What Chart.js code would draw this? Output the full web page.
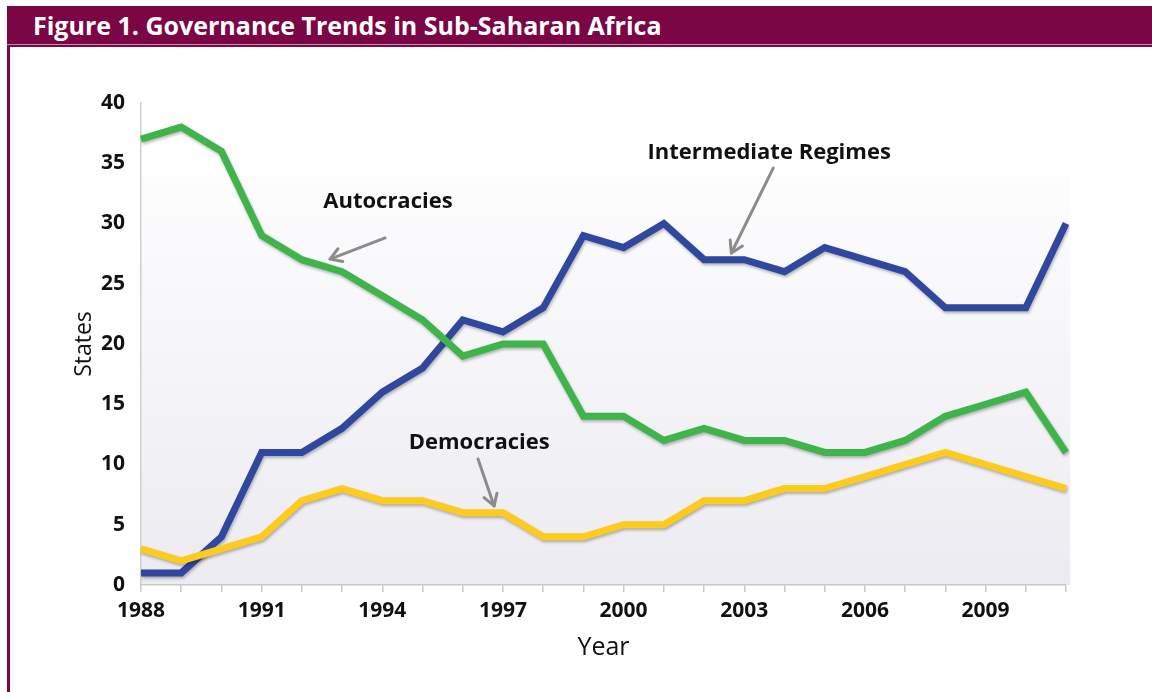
<!DOCTYPE html>
<html>
<head>
<meta charset="utf-8">
<script src="https://cdn.jsdelivr.net/npm/chart.js@4.4.0/dist/chart.umd.min.js"></script>
<style>
  body { margin: 0; background: #fff; width: 1152px; height: 692px; overflow: hidden; position: relative; font-family: "Open Sans", sans-serif; }
  #bar { position: absolute; left: 7px; top: 6px; right: 0; height: 38px; background: #7a0646; color: #fff; font-weight: 700; font-size: 25px; line-height: 38px; padding-left: 26px; box-sizing: border-box; white-space: nowrap; }
  #rule { position: absolute; left: 7px; right: 0; top: 44px; height: 1px; background: #c98bab; }
  #frame { position: absolute; left: 7px; right: 0; top: 45px; bottom: 0; border-top: 2px solid #7a0646; border-left: 3px solid #7a0646; }
  #wrap { position: absolute; left: 0; top: 0; width: 1152px; height: 692px; }
</style>
</head>
<body>
<div id="bar">Figure 1. Governance Trends in Sub-Saharan Africa</div>
<div id="rule"></div>
<div id="frame"></div>
<div id="wrap"><canvas id="chart-governance"></canvas></div>

<script>
// Governance trends, number of states per regime type

const years = ['1988','1989','1990','1991','1992','1993','1994','1995','1996','1997','1998','1999',
               '2000','2001','2002','2003','2004','2005','2006','2007','2008','2009','2010','2011'];
const autocracies  = [37, 38, 36, 29, 27, 26, 24, 22, 19, 20, 20, 14, 14, 12, 13, 12, 12, 11, 11, 12, 14, 15, 16, 11];
const intermediate = [ 1,  1,  4, 11, 11, 13, 16, 18, 22, 21, 23, 29, 28, 30, 27, 27, 26, 28, 27, 26, 23, 23, 23, 30];
const democracies  = [ 3,  2,  3,  4,  7,  8,  7,  7,  6,  6,  4,  4,  5,  5,  7,  7,  8,  8,  9, 10, 11, 10,  9,  8];
const yTicks = [0, 5, 10, 15, 20, 25, 30, 35, 40];

// callout labels: text centre and arrow, in (year index, states) units
const callouts = [
  { text: 'Autocracies',          tx: 6.14,  ty: 31.8, x1: 6.07,  y1: 28.8,  x2: 4.7,   y2: 27.05 },
  { text: 'Intermediate Regimes', tx: 15.62, ty: 35.9, x1: 15.72, y1: 34.6,  x2: 14.68, y2: 27.55 },
  { text: 'Democracies',          tx: 8.41,  ty: 11.8, x1: 8.38,  y1: 10.46, x2: 8.78,  y2: 6.56 },
];

const COLORS = { autocracies: '#3fb44b', intermediate: '#2f479e', democracies: '#fdca1e' };

const plotBackground = {
  id: 'plotBackground',
  beforeDraw(chart) {
    const { ctx, chartArea: a, scales: { y } } = chart;
    const top = y.getPixelForValue(34);
    const g = ctx.createLinearGradient(0, top, 0, a.bottom);
    g.addColorStop(0, '#fdfdfe');
    g.addColorStop(1, '#ecebf1');
    ctx.save();
    ctx.fillStyle = g;
    ctx.fillRect(a.left, top, a.right - a.left + 4, a.bottom - top);
    ctx.restore();
  }
};

const lineShadow = {
  id: 'lineShadow',
  beforeDatasetDraw(chart) {
    const ctx = chart.ctx;
    ctx.save();
    ctx.shadowColor = 'rgba(0,0,0,0.28)';
    ctx.shadowBlur = 3;
    ctx.shadowOffsetX = 1;
    ctx.shadowOffsetY = 2;
  },
  afterDatasetDraw(chart) {
    chart.ctx.restore();
  }
};

const calloutLabels = {
  id: 'calloutLabels',
  afterDatasetsDraw(chart) {
    const { ctx, scales: { x, y } } = chart;
    const px = v => x.getPixelForValue(0) + (x.getPixelForValue(years.length - 1) - x.getPixelForValue(0)) * v / (years.length - 1);
    ctx.save();
    for (const c of callouts) {
      ctx.font = 'bold 22px "Open Sans", sans-serif';
      ctx.fillStyle = '#111';
      ctx.textAlign = 'center';
      ctx.textBaseline = 'middle';
      ctx.fillText(c.text, px(c.tx), y.getPixelForValue(c.ty));

      const sx = px(c.x1), sy = y.getPixelForValue(c.y1);
      const ex = px(c.x2), ey = y.getPixelForValue(c.y2);
      const ang = Math.atan2(ey - sy, ex - sx);
      ctx.strokeStyle = '#8c8c8c';
      ctx.lineWidth = 3;
      ctx.lineCap = 'round';
      ctx.lineJoin = 'round';
      ctx.beginPath();
      ctx.moveTo(sx, sy);
      ctx.lineTo(ex, ey);
      ctx.stroke();
      ctx.beginPath();
      ctx.moveTo(ex - 13 * Math.cos(ang - 0.55), ey - 13 * Math.sin(ang - 0.55));
      ctx.lineTo(ex, ey);
      ctx.lineTo(ex - 13 * Math.cos(ang + 0.55), ey - 13 * Math.sin(ang + 0.55));
      ctx.stroke();
    }
    ctx.restore();
  }
};

const ds = (label, data, color) => ({
  label, data,
  borderColor: color, backgroundColor: color,
  borderWidth: 7, pointRadius: 0, tension: 0, fill: false,
  borderJoinStyle: 'miter', borderCapStyle: 'butt',
});

new Chart(document.getElementById('chart-governance'), {
  type: 'line',
  data: {
    labels: years,
    datasets: [
      ds('Democracies', democracies, COLORS.democracies),
      ds('Autocracies', autocracies, COLORS.autocracies),
      ds('Intermediate Regimes', intermediate, COLORS.intermediate),
    ]
  },
  options: {
    responsive: true,
    maintainAspectRatio: false,
    animation: false,
    layout: { padding: { top: 103, right: 86, left: 67, bottom: 27 } },
    plugins: { legend: { display: false }, tooltip: { enabled: false } },
    scales: {
      x: {
        offset: false,
        afterFit: s => { s.height = 80; },
        grid: { display: true, drawOnChartArea: false, drawTicks: true, tickLength: 7, color: '#c8c8c8', lineWidth: 1.5 },
        border: { display: true, color: '#c8c8c8', width: 1.5 },
        ticks: {
          autoSkip: false, maxRotation: 0, padding: 6, color: '#111',
          font: { family: '"Open Sans", sans-serif', size: 21, weight: 'bold' },
          callback: (v, i) => (i % 3 === 0 ? years[i] : ''),
        },
        title: { display: true, text: 'Year', color: '#111', padding: { top: 4, bottom: 2 },
                 font: { family: '"Open Sans", sans-serif', size: 25 } },
      },
      y: {
        min: 0, max: 40,
        afterFit: s => { s.width = 74; },
        afterBuildTicks: s => { s.ticks = yTicks.map(v => ({ value: v })); },
        grid: { display: false, drawTicks: false },
        border: { display: true, color: '#cfcfcf', width: 1.5 },
        ticks: { padding: 16, color: '#111', font: { family: '"Open Sans", sans-serif', size: 21, weight: 'bold' } },
        title: { display: true, text: 'States', color: '#111', padding: { top: 4, bottom: 4 },
                 font: { family: '"Open Sans", sans-serif', size: 23 } },
      }
    }
  },
  plugins: [plotBackground, lineShadow, calloutLabels],
});
</script>
</body>
</html>
